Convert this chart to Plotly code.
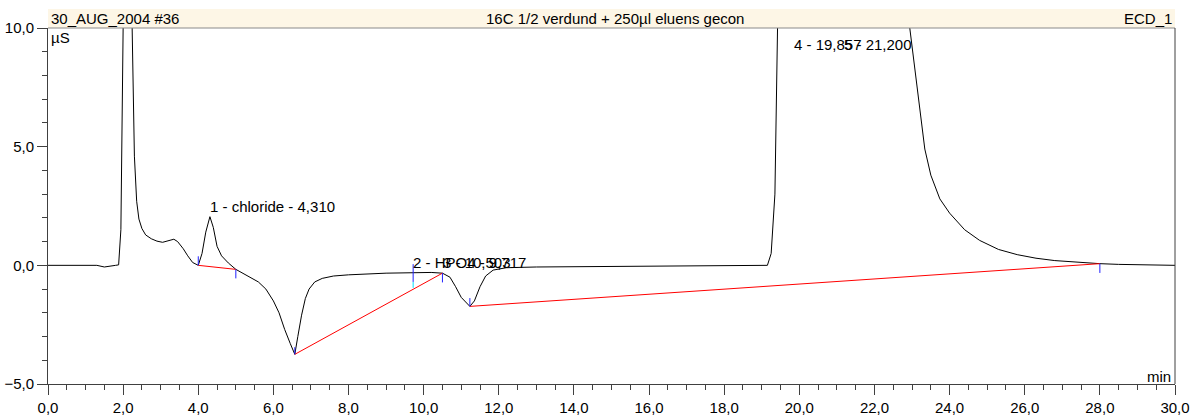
import plotly.graph_objects as go

# Chromatogram trace: retention time (min) vs conductivity (µS)
time_min = [0.0, 1.3, 1.5, 1.65, 1.8, 1.88, 1.94, 2.0, 2.06, 2.12, 2.18, 2.24,
            2.3, 2.36, 2.42, 2.5, 2.6, 2.75, 2.9, 3.05, 3.2, 3.35, 3.45, 3.6,
            3.72, 3.85, 4.0, 4.1, 4.2, 4.31, 4.4, 4.5, 4.62, 4.8, 5.0, 5.2,
            5.4, 5.6, 5.8, 6.0, 6.15, 6.3, 6.45, 6.57, 6.65, 6.75, 6.85, 6.95,
            7.1, 7.3, 7.6, 8.0, 9.0, 9.7, 10.2, 10.5, 10.7, 10.85, 11.0, 11.23,
            11.35, 11.5, 11.65, 11.85, 12.2, 13.0, 15.0, 17.0, 19.0, 19.15,
            19.25, 19.35, 19.42, 19.5, 20.0, 21.0, 22.0, 22.6, 22.85, 22.94,
            23.02, 23.1, 23.2, 23.34, 23.5, 23.74, 24.0, 24.4, 24.8, 25.3,
            25.8, 26.3, 26.8, 27.4, 28.0, 28.5, 29.0, 30.0]
signal_us = [0.0, 0.0, -0.07, -0.05, 0.0, 0.02, 1.5, 10.0, 30.0, 35.0, 25.0, 10.0,
             4.6, 2.7, 1.95, 1.55, 1.28, 1.12, 1.02, 0.97, 1.02, 1.1, 1.0, 0.7,
             0.4, 0.12, 0.0, 0.5, 1.4, 2.05, 1.6, 0.8, 0.4, 0.1, -0.17, -0.35,
             -0.5, -0.7, -1.0, -1.5, -2.0, -2.7, -3.3, -3.75, -3.0, -2.1, -1.4, -1.0,
             -0.7, -0.55, -0.45, -0.4, -0.33, -0.3, -0.3, -0.33, -0.5, -0.9, -1.35, -1.73,
             -1.5, -0.9, -0.45, -0.2, -0.1, -0.07, -0.05, -0.04, -0.03, 0.0,
             0.5, 3.0, 10.0, 25.0, 45.0, 60.0, 45.0, 25.0, 12.0, 10.0,
             9.0, 8.0, 6.6, 4.9, 3.8, 2.8, 2.2, 1.5, 1.05, 0.67,
             0.45, 0.3, 0.2, 0.12, 0.07, 0.04, 0.02, 0.0]

# Integration baselines (start/end of each peak)
base_t0 = [4.0, 6.57, 11.23]
base_v0 = [0.0, -3.75, -1.73]
base_t1 = [5.0, 10.5, 28.0]
base_v1 = [-0.17, -0.33, 0.07]

# Peak delimiter markers: time, lower and upper value
mark_t = [4.0, 5.0, 6.57, 9.72, 10.5, 11.23, 28.0]
mark_lo = [0.0, -0.55, -3.75, -0.7, -0.72, -1.73, -0.32]
mark_hi = [0.38, -0.17, -3.45, 0.05, -0.33, -1.38, 0.07]
cyan_t = [9.72]
cyan_lo = [-0.95]
cyan_hi = [-0.7]

# Peak labels
peak_t = [4.31, 9.717, 10.503, 19.857, 21.2]
peak_label_v = [2.49, 0.13, 0.13, 9.3, 9.3]
peak_text = ["1 - chloride - 4,310", "2 - HPO4 - 9,717", "3 - 10,503",
             "4 - 19,857", "5 - 21,200"]

FONT = "Arial, Liberation Sans, sans-serif"

fig = go.Figure()
fig.add_trace(go.Scatter(x=time_min, y=signal_us, mode="lines",
                         line=dict(color="black", width=1), hoverinfo="skip"))

bx, by = [], []
for a, b, c, d in zip(base_t0, base_v0, base_t1, base_v1):
    bx += [a, c, None]
    by += [b, d, None]
fig.add_trace(go.Scatter(x=bx, y=by, mode="lines",
                         line=dict(color="#ff0000", width=1), hoverinfo="skip"))

mx, my = [], []
for t, lo, hi in zip(mark_t, mark_lo, mark_hi):
    mx += [t, t, None]
    my += [lo, hi, None]
fig.add_trace(go.Scatter(x=mx, y=my, mode="lines",
                         line=dict(color="#2020ff", width=1), hoverinfo="skip"))
cx, cy = [], []
for t, lo, hi in zip(cyan_t, cyan_lo, cyan_hi):
    cx += [t, t, None]
    cy += [lo, hi, None]
fig.add_trace(go.Scatter(x=cx, y=cy, mode="lines",
                         line=dict(color="#00e0ff", width=1), hoverinfo="skip"))

for t, v, s in zip(peak_t, peak_label_v, peak_text):
    fig.add_annotation(x=t, y=v, text=s, showarrow=False, xanchor="left",
                       yanchor="middle", xshift=-2, font=dict(size=15, color="black"))

# Header band above the plot area
fig.add_shape(type="rect", xref="paper", yref="paper", x0=0, x1=1,
              y0=1, y1=1 + 19 / 356, fillcolor="#fdf6e6", line=dict(width=0),
              layer="below")
fig.add_shape(type="line", xref="paper", yref="paper", x0=0, x1=1, y0=1, y1=1,
              line=dict(color="#8a8a8a", width=1))
fig.add_shape(type="line", xref="paper", yref="paper", x0=1, x1=1, y0=0, y1=1,
              line=dict(color="#404040", width=1))

hy = 1 + 9.5 / 356
fig.add_annotation(xref="paper", yref="paper", x=0.001, y=hy, text="30_AUG_2004 #36",
                   showarrow=False, xanchor="left", yanchor="middle", font=dict(size=15))
fig.add_annotation(xref="paper", yref="paper", x=(615 - 48) / 1127, y=hy,
                   text="16C 1/2 verdund + 250µl eluens gecon",
                   showarrow=False, xanchor="center", yanchor="middle", font=dict(size=15))
fig.add_annotation(xref="paper", yref="paper", x=0.999, y=hy, text="ECD_1",
                   showarrow=False, xanchor="right", yanchor="middle", font=dict(size=15))
fig.add_annotation(xref="paper", yref="paper", x=0.001, y=1 - 10 / 356, text="µS",
                   showarrow=False, xanchor="left", yanchor="middle", font=dict(size=15))
fig.add_annotation(xref="paper", yref="paper", x=0.998, y=7.5 / 356, text="min",
                   showarrow=False, xanchor="right", yanchor="middle", font=dict(size=15))

fig.update_layout(
    width=1202, height=416,
    margin=dict(l=48, r=27, t=28, b=32, autoexpand=False),
    plot_bgcolor="white", paper_bgcolor="white",
    showlegend=False,
    separators=",.",
    font=dict(family=FONT, size=15, color="black"),
    xaxis=dict(range=[0, 30], dtick=2, tick0=0, tickformat=".1f",
               ticks="outside", ticklen=10, tickcolor="#404040",
               showline=True, linecolor="#404040", linewidth=1,
               showgrid=False, zeroline=False, automargin=False,
               minor=dict(dtick=0.5, ticks="outside", ticklen=5, tickcolor="#404040")),
    yaxis=dict(range=[-5, 10], dtick=5, tick0=0, tickformat=".1f",
               ticks="outside", ticklen=10, tickcolor="#404040",
               showline=True, linecolor="#404040", linewidth=1,
               showgrid=False, zeroline=False, automargin=False,
               minor=dict(dtick=1, ticks="outside", ticklen=5, tickcolor="#404040")),
)

fig.write_html("out.html", config={"displayModeBar": False})
